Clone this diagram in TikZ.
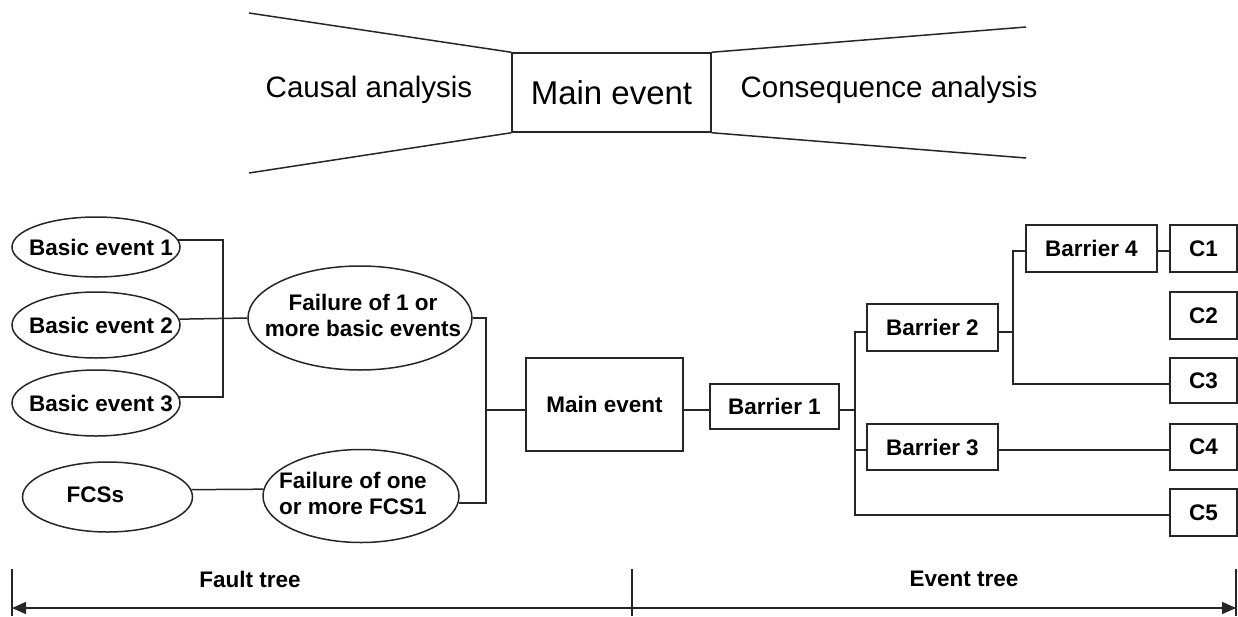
\documentclass[tikz,border=0pt]{standalone}
\usepackage{fontspec}
\setmainfont{Liberation Sans}
\usetikzlibrary{shapes.geometric,arrows.meta}
% text of a zero-width box, so the ellipse keeps its given size; #1 shifts it sideways
\newcommand\ovtext[2][0pt]{\makebox[0pt]{\kern#1\begin{tabular}{@{}c@{}}#2\end{tabular}\kern-#1}}
% lowers a label without changing the box the node is centred on
\newcommand\lowered[1]{\raisebox{-3pt}[\height][\depth]{#1}}
\begin{document}
\begin{tikzpicture}[x=1pt,y=-1pt,
  line width=1.5pt, color=black!85,
  lbl/.style={text=black,font=\fontsize{22.5}{26}\selectfont\bfseries,align=center},
  oval/.style={ellipse,draw,inner sep=0pt,lbl},
  blk/.style={rectangle,draw,inner sep=0pt,lbl},
  cbox/.style={blk,minimum width=67},
  head/.style={text=black,font=\fontsize{29.5}{32}\selectfont},
  span/.style={{Triangle[length=14pt,width=12pt]}-{Triangle[length=14pt,width=12pt]}}
]
\useasboundingbox (0,0) rectangle (1238,616);

% ---- bow-tie overview ----
\node[draw,text=black,minimum width=199,minimum height=79,inner sep=0pt,
      font=\fontsize{33}{36}\selectfont] (tb) at (611.5,92.5) {Main event};
\coordinate (tl1) at (249,13);
\coordinate (tl2) at (249,173);
\coordinate (tr1) at (1026,27);
\coordinate (tr2) at (1026,158);
\draw (tb.north west) -- (tl1);
\draw (tb.south west) -- (tl2);
\draw (tb.north east) -- (tr1);
\draw (tb.south east) -- (tr2);
\node[head] (ca) at (369,90) {Causal analysis};
\node[head] (cq) at (889,90) {Consequence analysis};

% ---- fault tree ----
\node[oval,minimum width=168,minimum height=60] (be1) at (96,247) {\lowered{\ovtext[5pt]{Basic event 1}}};
\node[oval,minimum width=168,minimum height=66] (be2) at (96,325) {\lowered{\ovtext[5pt]{Basic event 2}}};
\node[oval,minimum width=168,minimum height=66] (be3) at (96,403) {\lowered{\ovtext[5pt]{Basic event 3}}};
\node[oval,minimum width=224,minimum height=104] (fb) at (360,318) {\ovtext[3pt]{Failure of 1 or\\more basic events}};
\node[oval,minimum width=170,minimum height=70] (fcs) at (107.5,497) {\ovtext[-12pt]{FCSs}};
\node[oval,minimum width=196,minimum height=93] (fo) at (361,496) {\ovtext[-8pt]{Failure of one\\or more FCS1}};

\coordinate (j1) at (223,318);
\coordinate (j2) at (486,410);
\draw (be1.5.6) -| (j1);
\draw (be3.4.9) -| (j1);
\draw (be2.4.9) -- (fb.west);
\draw (fb.east) -| (j2);
\draw (fo.-4) -| (j2);
\draw (fcs.5) -- (fo.176);

% ---- main event and event tree ----
\node[blk,minimum width=157,minimum height=93] (mb) at (604.5,404.5) {Main event};
\node[blk,minimum width=129,minimum height=45] (b1) at (774.5,406.5) {Barrier 1};
\node[blk,minimum width=131,minimum height=47] (b2) at (932.5,327.5) {Barrier 2};
\node[blk,minimum width=131,minimum height=46] (b3) at (932.5,447) {Barrier 3};
\node[blk,minimum width=131,minimum height=47] (b4) at (1091.5,248.5) {Barrier 4};
\node[cbox,minimum height=47] (c1) at (1203.5,248.5) {C1};
\node[cbox,minimum height=47] (c2) at (1203.5,315.5) {C2};
\node[cbox,minimum height=45] (c3) at (1203.5,380.5) {C3};
\node[cbox,minimum height=46] (c4) at (1203.5,447) {C4};
\node[cbox,minimum height=47] (c5) at (1203.5,512.5) {C5};

\draw (j2) -- (j2 -| mb.west);
\draw (j2 -| mb.east) -- (j2 -| b1.west);
\coordinate (k1) at (855,410);
\draw (j2 -| b1.east) -- (k1);
\draw ([yshift=-4.5pt]b2.west) -| (k1);
\draw ([yshift=-3pt]b3.west) -| (k1);
\draw ([yshift=-2.5pt]c5.west) -| (k1);
\draw ([yshift=-3pt]b3.east) -- ([yshift=-3pt]c4.west);
\coordinate (k2) at (1013,332);
\draw ([yshift=-4.5pt]b2.east) -- (k2);
\draw ([yshift=-2.5pt]b4.west) -| (k2);
\draw ([yshift=-3.5pt]c3.west) -| (k2);
\draw ([yshift=-2.5pt]b4.east) -- ([yshift=-2.5pt]c1.west);

% ---- extent scale ----
\coordinate (s0t) at (12,569);   \coordinate (s0b) at (12,616);
\coordinate (s1t) at (632,569);  \coordinate (s1b) at (632,616);
\coordinate (s2t) at (1236,569); \coordinate (s2b) at (1236,616);
\draw[line width=1.2pt] (s0t) -- (s0b);
\draw[line width=1.2pt] (s1t) -- (s1b);
\draw[line width=1.2pt] (s2t) -- (s2b);
\coordinate (a0) at (12,608);
\coordinate (a1) at (1236,608);
\draw[span] (a0) -- (a1);
\node[lbl] (ft) at (250,579) {Fault tree};
\node[lbl] (et) at (964,579) {Event tree};
\end{tikzpicture}
\end{document}
